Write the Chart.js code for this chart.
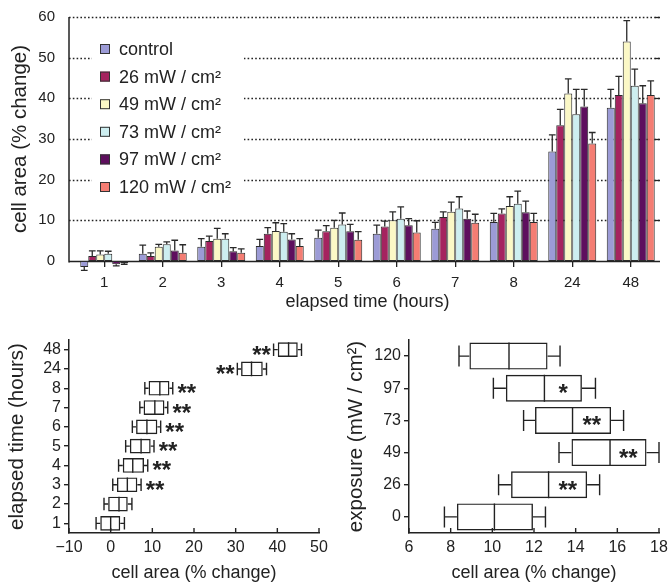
<!DOCTYPE html>
<html><head><meta charset="utf-8">
<script src="https://cdn.jsdelivr.net/npm/chart.js@4.4.1/dist/chart.umd.min.js"></script>
<style>
html,body{margin:0;padding:0;background:#fff;width:670px;height:582px;overflow:hidden;}
canvas{position:absolute;}
</style></head><body>
<canvas id="c1" width="670" height="320" style="left:0px;top:0px;width:670px;height:320px"></canvas>
<canvas id="c2" width="335" height="252" style="left:0px;top:330px;width:335px;height:252px"></canvas>
<canvas id="c3" width="335" height="252" style="left:335px;top:330px;width:335px;height:252px"></canvas>
<script>
// ---------- data: top panel (mean % change, SEM) ----------
const hours = ['1','2','3','4','5','6','7','8','24','48'];
const seriesNames = ['control','26 mW / cm²','49 mW / cm²','73 mW / cm²','97 mW / cm²','120 mW / cm²'];
const control = [-1.5, 1.8, 3.5, 3.7, 5.7, 6.7, 7.9, 9.6, 26.9, 37.7];
const mw26    = [ 1.2, 1.2, 4.9, 6.7, 7.3, 8.5, 10.8, 11.7, 33.4, 40.8];
const mw49    = [ 1.6, 3.5, 5.5, 7.4, 8.2, 10.0, 12.1, 13.5, 41.2, 54.0];
const mw73    = [ 1.8, 4.1, 5.5, 7.2, 9.0, 10.4, 12.9, 14.1, 36.1, 43.1];
const mw97    = [-0.8, 2.6, 2.4, 5.3, 7.3, 8.8, 10.4, 12.0, 38.0, 38.8];
const mw120   = [-0.5, 2.0, 2.0, 3.7, 5.2, 7.0, 9.4, 9.6, 28.9, 40.8];
const errControl = [0.8, 2.1, 2.0, 1.6, 1.9, 2.1, 1.6, 2.1, 4.1, 4.5];
const err26      = [1.3, 0.8, 1.2, 1.5, 1.4, 1.3, 1.3, 1.1, 3.9, 4.6];
const err49      = [0.9, 0.6, 2.5, 2.0, 1.8, 2.1, 2.4, 2.3, 3.6, 5.1];
const err73      = [0.6, 0.6, 1.2, 2.0, 2.8, 2.9, 2.9, 3.1, 6.1, 4.1];
const err97      = [0.4, 2.5, 0.9, 1.4, 1.7, 1.6, 1.9, 2.7, 4.2, 4.3];
const err120     = [0.3, 2.0, 1.0, 1.8, 2.0, 2.9, 2.1, 2.1, 2.7, 3.5];
const topTicks = [0, 10, 20, 30, 40, 50, 60];

// ---------- data: bottom-left (by elapsed time) ----------
const timeRows  = ['1','2','3','4','5','6','7','8','24','48'];
const tWhiskLo  = [-3.5, -1.6, 0.5, 1.9, 3.6, 5.2, 7.0, 8.2, 30.4, 39.1];
const tQ1       = [-2.5, -0.6, 1.5, 2.9, 4.6, 6.1, 7.9, 9.1, 31.3, 40.1];
const tMedian   = [ 0.0, 2.0, 4.0, 5.3, 7.3, 8.7, 10.6, 11.8, 33.8, 42.7];
const tQ3       = [ 2.3, 4.1, 6.4, 8.0, 9.6, 11.2, 12.9, 14.1, 36.5, 44.9];
const tWhiskHi  = [ 3.3, 5.1, 7.3, 8.9, 10.4, 12.0, 13.7, 14.9, 37.4, 45.8];
const tSig      = ['', '', '**', '**', '**', '**', '**', '**', '**', '**'];

// ---------- data: bottom-right (by exposure) ----------
const expRows   = ['0','26','49','73','97','120'];
const eWhiskLo  = [7.7, 10.3, 13.2, 11.5, 10.05, 8.4];
const eQ1       = [8.3, 10.9, 13.8, 12.05, 10.65, 8.9];
const eMedian   = [10.1, 12.7, 15.65, 13.85, 12.5, 10.8];
const eQ3       = [11.95, 14.55, 17.4, 15.7, 14.3, 12.65];
const eWhiskHi  = [12.55, 15.15, 18.0, 16.3, 14.95, 13.25];
const eSig      = ['', '**', '**', '**', '*', ''];

// ---------- styling ----------
Chart.defaults.font.family = '"Liberation Sans", Arial, Helvetica, sans-serif';
Chart.defaults.color = '#222';
const INK = '#222';
const barColors = ['#9c9bd6', '#a5235f', '#fbf8c6', '#cdeef0', '#5e0f5e', '#f47d73'];
const seriesValues = [control, mw26, mw49, mw73, mw97, mw120];
const seriesErr = [errControl, err26, err49, err73, err97, err120];

function noPad(s) { s.paddingTop = 0; s.paddingBottom = 0; s.paddingLeft = 0; s.paddingRight = 0; }

const topDecor = {
  id: 'topDecor',
  beforeDatasetsDraw(chart) {
    const {ctx, chartArea: a, scales: {x, y}} = chart;
    const axisX = a.left - 6;
    ctx.save();
    // dotted grid lines
    ctx.strokeStyle = INK; ctx.lineWidth = 1.4; ctx.setLineDash([1.6, 2.2]);
    y.ticks.forEach(t => {
      if (t.value <= 0) return;
      const py = Math.round(y.getPixelForValue(t.value)) + 0.5;
      ctx.beginPath(); ctx.moveTo(axisX, py); ctx.lineTo(a.right, py); ctx.stroke();
    });
    ctx.setLineDash([]);
    // short inward ticks at right edge
    ctx.lineWidth = 1.3;
    y.ticks.forEach(t => {
      if (t.value <= 0) return;
      const py = Math.round(y.getPixelForValue(t.value)) + 0.5;
      ctx.beginPath(); ctx.moveTo(a.right - 5, py); ctx.lineTo(a.right, py); ctx.stroke();
    });
    // axes
    ctx.lineWidth = 1.5;
    const y0 = Math.round(y.getPixelForValue(0)) + 0.5;
    ctx.beginPath(); ctx.moveTo(axisX, y.getPixelForValue(60)); ctx.lineTo(axisX, y0 + 1); ctx.stroke();
    ctx.beginPath(); ctx.moveTo(axisX, y0); ctx.lineTo(a.right, y0); ctx.stroke();
    // legend inside plot
    ctx.fillStyle = '#fff';
    ctx.fillRect(92, 30, 152, 164);
    ctx.font = '18px "Liberation Sans", Arial, sans-serif';
    ctx.textBaseline = 'middle'; ctx.textAlign = 'left';
    chart.data.datasets.forEach((ds, i) => {
      const cy = 49 + i * 27.6;
      ctx.fillStyle = ds.backgroundColor;
      ctx.fillRect(100, cy - 5, 10, 10);
      ctx.strokeStyle = '#333'; ctx.lineWidth = 1;
      ctx.strokeRect(100.5, cy - 4.5, 9, 9);
      ctx.fillStyle = INK;
      ctx.fillText(ds.label, 119, cy + 1);
    });
    ctx.restore();
  },
  afterDatasetsDraw(chart) {
    const {ctx, scales: {y}} = chart;
    ctx.save();
    ctx.strokeStyle = '#2a2a2a'; ctx.lineWidth = 1.3;
    chart.data.datasets.forEach((ds, di) => {
      const meta = chart.getDatasetMeta(di);
      meta.data.forEach((el, i) => {
        const v = ds.data[i], e = ds.err[i];
        const end = v >= 0 ? v + e : v - e;
        const p0 = y.getPixelForValue(v), p1 = y.getPixelForValue(end);
        const hw = el.width * 0.42;
        ctx.beginPath();
        ctx.moveTo(el.x, p0); ctx.lineTo(el.x, p1);
        ctx.moveTo(el.x - hw, p1); ctx.lineTo(el.x + hw, p1);
        ctx.stroke();
      });
    });
    ctx.restore();
  }
};

new Chart(document.getElementById('c1'), {
  type: 'bar',
  data: {
    labels: hours,
    datasets: seriesNames.map((name, i) => ({
      label: name, data: seriesValues[i], err: seriesErr[i],
      backgroundColor: barColors[i], borderColor: '#2b2b2b', borderWidth: 1,
      borderSkipped: false, clip: false, categoryPercentage: 0.82, barPercentage: 1
    }))
  },
  options: {
    responsive: false, animation: false, events: [],
    layout: {padding: {top: 17, right: 10, bottom: 7, left: 0}},
    plugins: {legend: {display: false}, tooltip: {enabled: false}},
    scales: {
      x: {
        grid: {display: true, drawOnChartArea: false, offset: false, tickLength: 6, color: INK, lineWidth: 1.3},
        border: {display: false},
        ticks: {font: {size: 15}, padding: 7, color: INK},
        title: {display: true, text: 'elapsed time (hours)', font: {size: 18}, color: INK, padding: {top: 0, bottom: 0}},
        afterFit(s) { s.height = 52; noPad(s); }
      },
      y: {
        min: topTicks[0], max: topTicks[topTicks.length - 1],
        afterBuildTicks(s) { s.ticks = topTicks.map(v => ({value: v})); },
        ticks: {font: {size: 15}, padding: 20, color: INK},
        grid: {display: false, drawTicks: false},
        border: {display: false},
        title: {display: true, text: 'cell area (% change)', font: {size: 20.5}, color: INK, padding: {top: 8, bottom: 0}},
        afterFit(s) { s.width = 75; noPad(s); }
      }
    }
  },
  plugins: [topDecor]
});

// ---------- box plots ----------
const boxDecor = {
  id: 'boxDecor',
  afterDatasetsDraw(chart, args, o) {
    const {ctx, chartArea: a, scales: {x}} = chart;
    const ds = chart.data.datasets[0];
    const meta = chart.getDatasetMeta(0);
    ctx.save();
    ctx.strokeStyle = INK; ctx.lineWidth = 1.4;
    meta.data.forEach((el, i) => {
      const cy = el.y, h = el.height / 2, ch = h * o.cap;
      const xl = x.getPixelForValue(ds.whiskLo[i]);
      const xq1 = x.getPixelForValue(ds.data[i][0]);
      const xm = x.getPixelForValue(ds.median[i]);
      const xq3 = x.getPixelForValue(ds.data[i][1]);
      const xh = x.getPixelForValue(ds.whiskHi[i]);
      ctx.beginPath();
      ctx.moveTo(xl, cy); ctx.lineTo(xq1, cy);
      ctx.moveTo(xq3, cy); ctx.lineTo(xh, cy);
      ctx.moveTo(xl, cy - ch); ctx.lineTo(xl, cy + ch);
      ctx.moveTo(xh, cy - ch); ctx.lineTo(xh, cy + ch);
      ctx.moveTo(xm, cy - h); ctx.lineTo(xm, cy + h);
      ctx.stroke();
      const s = ds.sig[i];
      if (s) {
        const place = o.place[i];
        let sx;
        if (place === 'right') sx = xh + o.gap + 10;
        else if (place === 'left') sx = xl - o.gap - 8;
        else sx = (xm + xq3) / 2;
        ctx.fillStyle = INK;
        ctx.font = 'bold 24px "Liberation Sans", Arial, sans-serif';
        ctx.textAlign = 'center'; ctx.textBaseline = 'alphabetic';
        ctx.fillText(s, sx, cy + 13);
      }
    });
    // inward x ticks
    ctx.lineWidth = 1.4;
    x.ticks.forEach(t => {
      const px = x.getPixelForValue(t.value);
      ctx.beginPath(); ctx.moveTo(px, a.bottom); ctx.lineTo(px, a.bottom - 5); ctx.stroke();
    });
    ctx.restore();
  }
};

function boxChart(id, rows, lo, q1, med, q3, hi, sig, cfg) {
  return new Chart(document.getElementById(id), {
    type: 'bar',
    data: {
      labels: rows,
      datasets: [{
        data: rows.map((_, i) => [q1[i], q3[i]]),
        whiskLo: lo, median: med, whiskHi: hi, sig: sig,
        backgroundColor: 'rgba(255,255,255,0)', borderColor: INK, borderWidth: 1.4,
        borderSkipped: false, barPercentage: cfg.box, categoryPercentage: 1
      }]
    },
    options: {
      indexAxis: 'y', responsive: false, animation: false, events: [],
      layout: {padding: {top: 10, right: cfg.padRight, bottom: 0, left: 0}},
      plugins: {legend: {display: false}, tooltip: {enabled: false},
        boxDecor: {cap: cfg.cap, place: cfg.place, gap: 4}},
      scales: {
        x: {
          type: 'linear', min: cfg.min, max: cfg.max,
          ticks: {stepSize: cfg.step, font: {size: 16}, padding: 5, color: INK,
            callback: v => String(v).replace('-', '\u2212')},
          grid: {display: false, drawTicks: false},
          border: {display: true, color: INK, width: 1.5},
          title: {display: true, text: 'cell area (% change)', font: {size: 18}, color: INK, padding: {top: 0, bottom: -2}},
          afterFit(s) { s.height = 49; noPad(s); }
        },
        y: {
          type: 'category', reverse: true,
          ticks: {font: {size: 16}, padding: 3, color: INK, autoSkip: false},
          grid: {display: true, drawOnChartArea: false, offset: false, tickLength: 5, color: INK, lineWidth: 1.4},
          border: {display: true, color: INK, width: 1.5},
          title: {display: true, text: cfg.ytitle, font: {size: 20.5}, color: INK, padding: {top: cfg.titlePad, bottom: 0}},
          afterFit(s) { s.width = cfg.yWidth; noPad(s); }
        }
      }
    },
    plugins: [boxDecor]
  });
}

boxChart('c2', timeRows, tWhiskLo, tQ1, tMedian, tQ3, tWhiskHi, tSig, {
  min: -10, max: 50, step: 10, box: 0.76, cap: 0.85, padRight: 16, yWidth: 69, titlePad: 5,
  ytitle: 'elapsed time (hours)',
  place: ['right','right','right','right','right','right','right','right','left','left']
});
boxChart('c3', expRows, eWhiskLo, eQ1, eMedian, eQ3, eWhiskHi, eSig, {
  min: 6, max: 18, step: 2, box: 0.84, cap: 0.78, padRight: 11, yWidth: 74, titlePad: 9,
  ytitle: 'exposure (mW / cm²)',
  place: ['inside','inside','inside','inside','inside','inside']
});
</script>
</body></html>
